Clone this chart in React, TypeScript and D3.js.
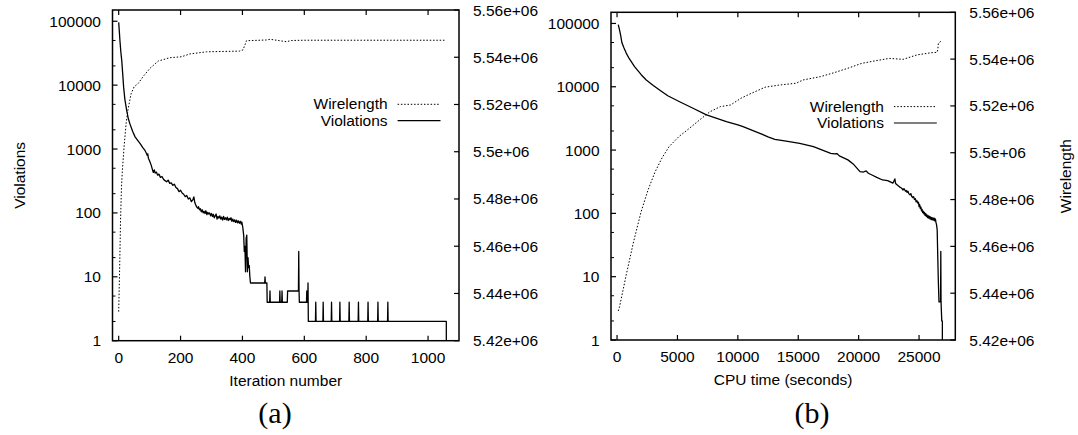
import React from 'react';
import * as d3 from 'd3';

// ---------- Panel (a): iteration number ----------
const iterViolX = [0, 2, 4, 7, 10, 13, 16, 20, 26, 31, 36, 45, 53, 62, 70, 78, 85, 90, 92, 94, 96, 100, 105, 110, 112, 115, 118, 122, 126, 130, 135, 140, 145, 150, 155, 160, 165, 170, 175, 180, 185, 190, 195, 200, 205, 210, 215, 220, 225, 230, 235, 240, 243, 246, 250, 253, 256, 258, 261, 264, 267, 270, 273, 276, 279, 282, 285, 288, 291, 294, 297, 300, 303, 306, 309, 312, 315, 318, 321, 324, 327, 330, 333, 336, 339, 342, 345, 348, 351, 354, 357, 360, 363, 366, 369, 372, 375, 378, 381, 384, 387, 390, 393, 396, 398, 401, 404, 406, 408, 410, 412, 414, 416, 418, 420, 422, 424, 426, 472, 473, 474, 479, 480, 488, 489, 490, 520, 521, 522, 527, 528, 529, 545, 546, 581, 582, 583, 584, 607, 608, 609, 611, 612, 613, 636, 637, 638, 660, 661, 662, 687, 688, 689, 714, 715, 716, 744, 745, 746, 774, 775, 776, 805, 806, 807, 837, 838, 839, 869, 870, 871, 1059, 1059];
const iterViolY = [96000, 70000, 50000, 33000, 24000, 15000, 9300, 6000, 4000, 3000, 2500, 1900, 1550, 1350, 1200, 1050, 950, 850, 800, 840, 720, 650, 560, 460, 430, 470, 420, 435, 390, 405, 360, 372, 335, 320, 308, 326, 290, 296, 270, 282, 250, 240, 215, 226, 205, 196, 180, 187, 165, 172, 150, 162, 178, 145, 130, 122, 118, 125, 112, 116, 104, 112, 100, 106, 98, 108, 94, 102, 96, 100, 90, 98, 88, 95, 84, 90, 96, 80, 88, 83, 90, 80, 86, 77, 88, 79, 84, 78, 86, 76, 82, 78, 84, 74, 80, 73, 78, 71, 77, 70, 75, 69, 74, 67, 72, 60, 45, 25, 30, 12, 40, 45, 12, 20, 14, 15, 10, 8, 8, 10, 8, 8, 4, 4, 6, 4, 4, 6, 4, 4, 6, 4, 4, 6, 6, 25, 6, 4, 4, 6, 4, 4, 8, 2, 2, 4, 2, 2, 4, 2, 2, 4, 2, 2, 4, 2, 2, 4, 2, 2, 4, 2, 2, 4, 2, 2, 4, 2, 2, 4, 2, 2, 1];

const iterWlX = [0, 3, 6, 9, 12, 18, 24, 30, 40, 50, 63, 80, 101, 128, 165, 203, 230, 284, 391, 402, 413, 477, 490, 520, 542, 560, 600, 1055];
const iterWlY = [5.4323, 5.450, 5.471, 5.485, 5.4923, 5.503, 5.512, 5.5177, 5.5245, 5.5275, 5.5289, 5.532, 5.5353, 5.5384, 5.5398, 5.5402, 5.5414, 5.5423, 5.5426, 5.5431, 5.547, 5.5473, 5.5476, 5.547, 5.5466, 5.5471, 5.5472, 5.5472];

// ---------- Panel (b): CPU time ----------
const cpuViolX = [100, 200, 300, 400, 550, 760, 1000, 1450, 2000, 2420, 3000, 3520, 4200, 5180, 6290, 7400, 8200, 9050, 10000, 10430, 11200, 11820, 12500, 13060, 14000, 15120, 16260, 17000, 17690, 18000, 18200, 18400, 19110, 19600, 20110, 20400, 20620, 20800, 21100, 21500, 21975, 22400, 22830, 23000, 23050, 23100, 23200, 23300, 23400, 23500, 23600, 23680, 23750, 23800, 23870, 23950, 24000, 24080, 24150, 24250, 24320, 24400, 24480, 24550, 24620, 24700, 24760, 24830, 24900, 24950, 25000, 25050, 25100, 25150, 25200, 25250, 25300, 25350, 25400, 25450, 25500, 25550, 25600, 25650, 25700, 25750, 25800, 25850, 25900, 25950, 26000, 26050, 26100, 26150, 26200, 26250, 26300, 26350, 26400, 26450, 26500, 26550, 26600, 26650, 26780, 26800, 26820, 26880, 26930, 26930];
const cpuViolY = [96000, 80000, 65000, 50000, 42000, 34000, 28000, 20800, 15500, 12800, 10500, 8900, 7200, 5800, 4570, 3590, 3200, 2810, 2500, 2340, 2050, 1840, 1620, 1480, 1380, 1280, 1130, 1000, 890, 870, 880, 810, 700, 590, 456, 450, 470, 430, 404, 370, 337, 330, 300, 350, 300, 290, 280, 270, 260, 255, 245, 234, 246, 238, 225, 230, 215, 224, 205, 196, 205, 185, 178, 184, 165, 170, 152, 158, 145, 150, 128, 138, 120, 126, 110, 116, 103, 108, 98, 104, 93, 99, 90, 95, 86, 92, 84, 90, 82, 88, 80, 86, 79, 85, 78, 84, 76, 82, 72, 66, 55, 20, 8, 4, 4, 25, 4, 2, 2, 1];

const cpuWlX = [100, 207, 760, 1370, 1987, 2566, 3146, 3725, 4305, 5120, 5980, 6830, 7690, 8550, 9400, 10260, 11120, 12260, 13400, 14830, 15400, 16830, 17970, 19110, 20260, 21400, 22550, 23680, 24830, 25970, 26490, 26550, 26600, 26880];
const cpuWlY = [5.4324, 5.4342, 5.4478, 5.462, 5.4747, 5.4841, 5.4918, 5.4978, 5.5026, 5.5069, 5.5104, 5.514, 5.5175, 5.5197, 5.5204, 5.5233, 5.5254, 5.528, 5.5289, 5.5297, 5.5311, 5.5325, 5.5342, 5.5361, 5.5382, 5.5393, 5.5403, 5.5399, 5.5418, 5.5427, 5.5429, 5.5440, 5.5468, 5.5479];

// ---------- Axes ----------
const iterTicks = [0, 200, 400, 600, 800, 1000];
const cpuTicks = [0, 5000, 10000, 15000, 20000, 25000];
const violTicks = [1, 10, 100, 1000, 10000, 100000];
const violTickLabels = ['1', '10', '100', '1000', '10000', '100000'];
const violMinorTicks = [2, 5, 20, 50, 200, 500, 2000, 5000, 20000, 50000];
const wlTicks = [5.42e6, 5.44e6, 5.46e6, 5.48e6, 5.5e6, 5.52e6, 5.54e6, 5.56e6];
const wlTickLabels = ['5.42e+06', '5.44e+06', '5.46e+06', '5.48e+06', '5.5e+06', '5.52e+06', '5.54e+06', '5.56e+06'];
const legendLabels = ['Wirelength', 'Violations'];

const SANS = '"Liberation Sans", Arial, Helvetica, sans-serif';
const SERIF = '"Liberation Serif", "Times New Roman", serif';
const FS = 15.5;

type Box = { l: number; r: number; t: number; b: number };

function Panel(props: {
  box: Box;
  xDomain: [number, number];
  xTicks: number[];
  violX: number[];
  violY: number[];
  wlX: number[];
  wlY: number[];
  xTitle: string;
  caption: string;
  captionX: number;
  leftTitle?: string;
  rightTitle?: string;
  id: string;
}) {
  const { box, xDomain, xTicks, violX, violY, wlX, wlY, xTitle, caption, captionX, leftTitle, rightTitle, id } = props;
  const x = d3.scaleLinear().domain(xDomain).range([box.l, box.r]);
  const y = d3.scaleLog().domain([1, 150000]).range([box.b, box.t]);
  const y2 = d3.scaleLinear().domain([5.42e6, 5.56e6]).range([box.b, box.t]);

  const violPts: [number, number][] = violX.map((v, i) => [v, violY[i]]);
  const wlPts: [number, number][] = wlX.map((v, i) => [v, wlY[i] * 1e6]);
  const violLine = d3.line<[number, number]>().x((d) => x(d[0])).y((d) => y(d[1]));
  const wlLine = d3.line<[number, number]>().x((d) => x(d[0])).y((d) => y2(d[1]));

  const cx = (box.l + box.r) / 2;
  const cy = (box.t + box.b) / 2;
  const legRight = box.r - 71.4;
  const lineX1 = box.r - 61.4;
  const lineX2 = box.r - 18.5;
  const legY0 = box.t + 99.3;

  return (
    <g>
      <defs>
        <clipPath id={id}>
          <rect x={box.l} y={box.t} width={box.r - box.l} height={box.b - box.t} />
        </clipPath>
      </defs>
      <g clipPath={`url(#${id})`}>
        <path d={wlLine(wlPts) || ''} fill="none" stroke="#000" strokeWidth={1} strokeDasharray="1.5 1.8" />
        <path d={violLine(violPts) || ''} fill="none" stroke="#000" strokeWidth={1.3} strokeLinejoin="round" />
      </g>
      <rect x={box.l} y={box.t} width={box.r - box.l} height={box.b - box.t} fill="none" stroke="#000" strokeWidth={1.5} />
      {xTicks.map((t) => (
        <g key={'x' + t}>
          <line x1={x(t)} x2={x(t)} y1={box.b} y2={box.b - 5} stroke="#000" strokeWidth={1.2} />
          <line x1={x(t)} x2={x(t)} y1={box.t} y2={box.t + 5} stroke="#000" strokeWidth={1.2} />
          <text x={x(t)} y={box.b + 22} textAnchor="middle" fontFamily={SANS} fontSize={FS}>{t}</text>
        </g>
      ))}
      {violTicks.map((t, i) => (
        <g key={'y' + t}>
          <line x1={box.l} x2={box.l + 5} y1={y(t)} y2={y(t)} stroke="#000" strokeWidth={1.2} />
          <text x={box.l - 11.5} y={y(t) + 5.5} textAnchor="end" fontFamily={SANS} fontSize={FS}>{violTickLabels[i]}</text>
        </g>
      ))}
      {violMinorTicks.map((t) => (
        <line key={'ym' + t} x1={box.l} x2={box.l + 3} y1={y(t)} y2={y(t)} stroke="#000" strokeWidth={1} />
      ))}
      {wlTicks.map((t, i) => (
        <g key={'y2' + t}>
          <line x1={box.r} x2={box.r - 5} y1={y2(t)} y2={y2(t)} stroke="#000" strokeWidth={1.2} />
          <text x={box.r + 14} y={y2(t) + 5.5} textAnchor="start" fontFamily={SANS} fontSize={FS}>{wlTickLabels[i]}</text>
        </g>
      ))}
      <text x={cx} y={box.b + 45} textAnchor="middle" fontFamily={SANS} fontSize={FS}>{xTitle}</text>
      {leftTitle && (
        <text transform={`translate(24.8,${cy}) rotate(-90)`} textAnchor="middle" fontFamily={SANS} fontSize={FS}>{leftTitle}</text>
      )}
      {rightTitle && (
        <text transform={`translate(1070.5,${cy}) rotate(-90)`} textAnchor="middle" fontFamily={SANS} fontSize={FS}>{rightTitle}</text>
      )}
      <text x={legRight} y={legY0} textAnchor="end" fontFamily={SANS} fontSize={FS}>{legendLabels[0]}</text>
      <line x1={lineX1} x2={lineX2} y1={legY0 - 5} y2={legY0 - 5} stroke="#000" strokeWidth={1} strokeDasharray="1.5 1.8" />
      <text x={legRight} y={legY0 + 16.7} textAnchor="end" fontFamily={SANS} fontSize={FS}>{legendLabels[1]}</text>
      <line x1={lineX1} x2={lineX2} y1={legY0 + 11.4} y2={legY0 + 11.4} stroke="#000" strokeWidth={1.2} />
      <text x={captionX} y={423} textAnchor="middle" fontFamily={SERIF} fontSize={30}>{caption}</text>
    </g>
  );
}

export default function App() {
  return (
    <svg width={1078} height={435} style={{ position: 'absolute', left: 0, top: 0, background: '#fff' }}>
      <rect x={0} y={0} width={1078} height={435} fill="#fff" />
      <Panel
        id="clipA"
        box={{ l: 112.5, r: 459, t: 10, b: 340.7 }}
        xDomain={[-20, 1100]}
        xTicks={iterTicks}
        violX={iterViolX}
        violY={iterViolY}
        wlX={iterWlX}
        wlY={iterWlY}
        xTitle="Iteration number"
        caption="(a)"
        captionX={275}
        leftTitle="Violations"
      />
      <Panel
        id="clipB"
        box={{ l: 611, r: 955.3, t: 12.3, b: 340 }}
        xDomain={[-500, 28000]}
        xTicks={cpuTicks}
        violX={cpuViolX}
        violY={cpuViolY}
        wlX={cpuWlX}
        wlY={cpuWlY}
        xTitle="CPU time (seconds)"
        caption="(b)"
        captionX={812}
        rightTitle="Wirelength"
      />
    </svg>
  );
}
